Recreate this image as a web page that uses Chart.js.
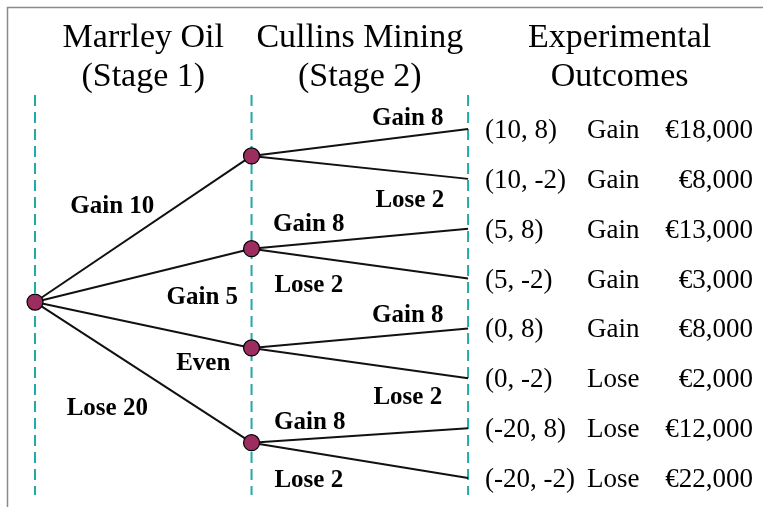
<!DOCTYPE html>
<html>
<head>
<meta charset="utf-8">
<script src="https://cdn.jsdelivr.net/npm/chart.js@4.4.1/dist/chart.umd.min.js"></script>
<style>
  html, body { margin: 0; padding: 0; background: #fff; }
</style>
</head>
<body>
<canvas id="tree" width="763" height="507"></canvas>
<script>
// Kolomkoppen per fase
const stageTitles = [
    ['Marrley Oil', '(Stage 1)'],
    ['Cullins Mining', '(Stage 2)'],
    ['Experimental', 'Outcomes']
];

// Takken fase 1 en fase 2
const stage1Labels = ['Gain 10', 'Gain 5', 'Even', 'Lose 20'];
const stage2Labels = ['Gain 8', 'Lose 2'];

const rootY = 3.47;
const stage1Y = [0.54, 2.4, 4.39, 6.29];
const outcomeY = [0, 1, 2, 3, 4, 5, 6, 7];

// Uitkomsten
const outcomePairs = ['(10, 8)', '(10, -2)', '(5, 8)', '(5, -2)', '(0, 8)', '(0, -2)', '(-20, 8)', '(-20, -2)'];
const outcomeResults = ['Gain', 'Gain', 'Gain', 'Gain', 'Gain', 'Lose', 'Lose', 'Lose'];
const outcomeAmounts = ['€18,000', '€8,000', '€13,000', '€3,000', '€8,000', '€2,000', '€12,000', '€22,000'];

// ────────────────────────────────────────────────
// Datasets opbouwen
// ────────────────────────────────────────────────
const TEAL = '#22a9a9';
const NODE = '#9b2d5f';
const datasets = [];

// gestippelde hulplijnen per fase
[0, 1, 2].forEach(s => {
    datasets.push({
        data: [{ x: s, y: -0.68 }, { x: s, y: 7.34 }],
        showLine: true, borderColor: TEAL, borderWidth: 2, borderDash: [11, 6],
        pointRadius: 0, order: 3, clip: false
    });
});

// takken fase 1
stage1Y.forEach(y => {
    datasets.push({
        data: [{ x: 0, y: rootY }, { x: 1, y: y }],
        showLine: true, borderColor: '#111', borderWidth: 2, pointRadius: 0, order: 2, clip: false
    });
});

// takken fase 2
stage1Y.forEach((y, i) => {
    stage2Labels.forEach((lab, j) => {
        datasets.push({
            data: [{ x: 1, y: y }, { x: 2, y: outcomeY[i * 2 + j] }],
            showLine: true, borderColor: '#111', borderWidth: 2, pointRadius: 0, order: 2, clip: false
        });
    });
});

// knopen
datasets.push({
    data: [{ x: 0, y: rootY }, ...stage1Y.map(y => ({ x: 1, y }))],
    showLine: false, pointRadius: 8, pointBackgroundColor: NODE,
    pointBorderColor: '#000', pointBorderWidth: 1.2, order: 0, clip: false
});

// label-verschuivingen t.o.v. midden van de tak (px)
const s1Offsets = [[-31, -24], [59, 21], [60, 37], [-36, 35]];
const s2Offsets = [
    [[48, -25], [50, 32]],
    [[-51, -16], [-51, 20]],
    [[48, -24], [48, 33]],
    [[-50, -14], [-51, 19]]
];

const textPlugin = {
    id: 'treeText',
    beforeDraw(chart) {
        const ctx = chart.ctx;
        ctx.save();
        ctx.strokeStyle = '#8a8a8a';
        ctx.lineWidth = 1.5;
        ctx.beginPath();
        ctx.moveTo(7.5, 507);
        ctx.lineTo(7.5, 7.5);
        ctx.lineTo(763, 7.5);
        ctx.stroke();
        ctx.restore();
    },
    afterDraw(chart) {
        const ctx = chart.ctx;
        const xs = chart.scales.x, ys = chart.scales.y;
        ctx.save();
        ctx.fillStyle = '#000';

        // koppen
        ctx.font = '34px "Liberation Serif"';
        ctx.textAlign = 'center';
        ctx.textBaseline = 'alphabetic';
        const titleX = [0.5, 1.5, 2.7];
        stageTitles.forEach((t, i) => {
            const x = xs.getPixelForValue(titleX[i]);
            ctx.fillText(t[0], x, 47);
            ctx.fillText(t[1], x, 86);
        });

        // labels fase 1
        ctx.font = 'bold 25px "Liberation Serif"';
        const x0 = xs.getPixelForValue(0), x1 = xs.getPixelForValue(1), x2 = xs.getPixelForValue(2);
        const yr = ys.getPixelForValue(rootY);
        stage1Y.forEach((y, i) => {
            const my = (yr + ys.getPixelForValue(y)) / 2;
            const mx = (x0 + x1) / 2;
            ctx.fillText(stage1Labels[i], mx + s1Offsets[i][0], my + s1Offsets[i][1] + 8);
        });

        // labels fase 2
        stage1Y.forEach((y, i) => {
            const yn = ys.getPixelForValue(y);
            stage2Labels.forEach((lab, j) => {
                const yt = ys.getPixelForValue(outcomeY[i * 2 + j]);
                const mx = (x1 + x2) / 2, my = (yn + yt) / 2;
                ctx.fillText(lab, mx + s2Offsets[i][j][0], my + s2Offsets[i][j][1] + 8);
            });
        });

        // uitkomsten
        ctx.font = '27px "Liberation Serif"';
        outcomeY.forEach((v, k) => {
            const y = ys.getPixelForValue(v) + 9;
            ctx.textAlign = 'left';
            ctx.fillText(outcomePairs[k], x2 + 17, y);
            ctx.fillText(outcomeResults[k], x2 + 119, y);
            ctx.textAlign = 'right';
            ctx.fillText(outcomeAmounts[k], x2 + 285, y);
        });
        ctx.restore();
    }
};

new Chart(document.getElementById('tree'), {
    type: 'scatter',
    data: { datasets },
    options: {
        responsive: false,
        animation: false,
        layout: { padding: 0, autoPadding: false },
        plugins: { legend: { display: false }, tooltip: { enabled: false } },
        scales: {
            x: { type: 'linear', display: false, min: -0.1617, max: 3.362 },
            y: { type: 'linear', display: false, reverse: true, min: -2.587, max: 7.58 }
        }
    },
    plugins: [textPlugin]
});
</script>
</body>
</html>
